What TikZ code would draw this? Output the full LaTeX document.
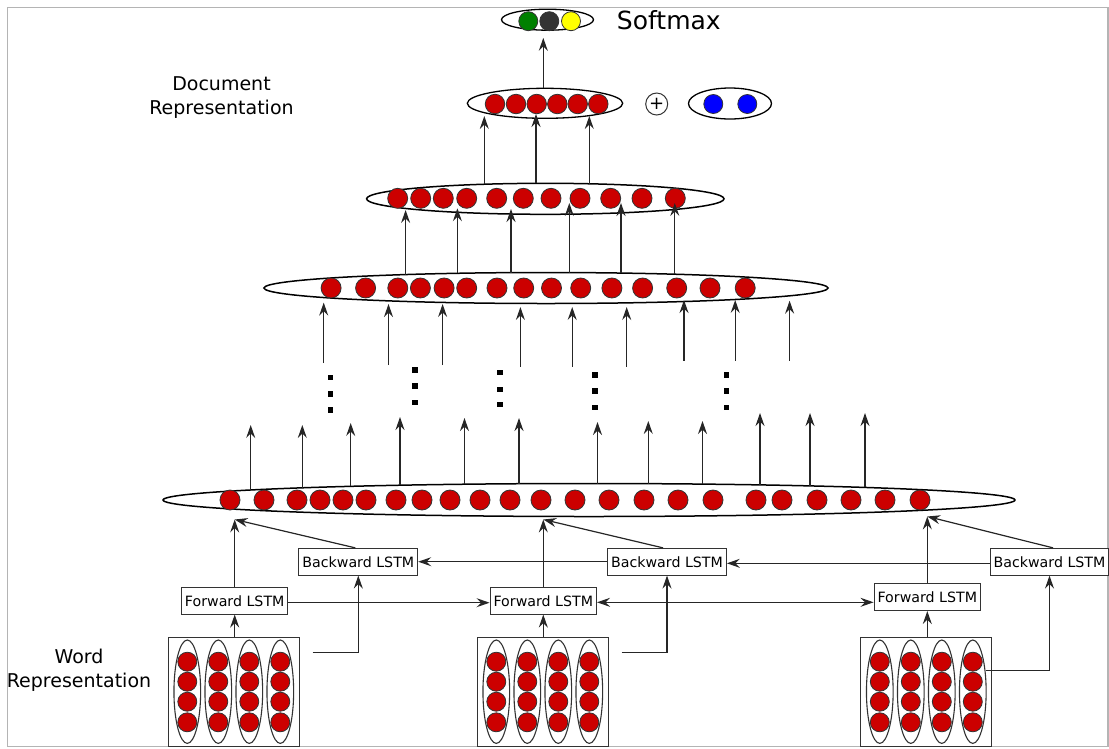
\documentclass[tikz,border=0pt]{standalone}
\usepackage{fontspec}
\setmainfont{DejaVu Sans}
\usetikzlibrary{shapes.geometric,arrows.meta}
\definecolor{cellred}{HTML}{CC0000}
\definecolor{cellgreen}{HTML}{008000}
\definecolor{celldark}{HTML}{333333}
\definecolor{cellyellow}{HTML}{FFFF00}
\definecolor{cellblue}{HTML}{0000FF}
\definecolor{framegray}{HTML}{B4B4B4}
\begin{document}
\begin{tikzpicture}[x=1pt,y=-1pt,
  layer/.style={ellipse, draw=black, line width=1.5pt, fill=white, inner sep=0pt},
  cell/.style={circle, draw=black!80, line width=0.8pt, fill=cellred, minimum size=20pt, inner sep=0pt},
  col/.style={ellipse, draw=black!80, line width=1.1pt, minimum width=26.7pt, minimum height=103.4pt, inner sep=0pt},
  wordbox/.style={draw=black!80, line width=1pt, fill=white, minimum width=131pt, minimum height=108.7pt, inner sep=0pt},
  lstm/.style={draw=black!80, line width=1pt, fill=white, font=\fontsize{14.2}{17}\selectfont, minimum height=26.7pt, inner xsep=3.5pt, inner ysep=0pt},
  label/.style={font=\fontsize{19}{24}\selectfont, align=center, inner sep=0pt},
  tip/.tip={Stealth[length=13pt,width=9pt,inset=4.5pt]},
  arr/.style={draw=black!85, line width=1.2pt, -tip},
  arrboth/.style={draw=black!85, line width=1.2pt, tip-tip},
  dot/.style={fill=black}
]
\useasboundingbox (0,0) rectangle (1109,748);
\draw[framegray, line width=1.3pt] (7.5,7.5) rectangle (1108,746.5);

% ---------- word representations ----------
\foreach \b/\cx in {1/233.8, 2/542.8, 3/926.3} {
  \node[wordbox] (w\b) at (\cx,691.7) {};
  \foreach \k/\dx in {1/-46.5, 2/-15.5, 3/15.5, 4/46.5} {
    \node[col] (w\b c\k) at (\cx+\dx,691.7) {};
    \foreach \j/\cy in {1/661.7, 2/681.7, 3/701.7, 4/722.3}
      \node[cell, minimum size=19pt] (w\b c\k r\j) at (\cx+\dx,\cy) {};
  }
}
\node[label] (wordlbl) at (79,670) {Word\\Representation};

% ---------- LSTM cells ----------
\node[lstm] (f1) at (234.7,600.7) {Forward LSTM};
\node[lstm] (f2) at (543.3,600.7) {Forward LSTM};
\node[lstm] (f3) at (927.3,597.2) {Forward LSTM};
\node[lstm] (b1) at (358.3,561.7) {Backward LSTM};
\node[lstm] (b2) at (667,561.7) {Backward LSTM};
\node[lstm] (b3) at (1049.5,561.7) {Backward LSTM};

% ---------- sentence-level layers ----------
\node[layer, minimum width=852pt, minimum height=33pt] (e4) at (589,500) {};
\foreach \x [count=\i] in {230,264,297,320,343,366,396,422,450,480,510,541,575,609,644,678,713,756,782,817,851,885,920}
  \node[cell] (e4n\i) at (\x,500) {};

\node[layer, minimum width=564pt, minimum height=31pt] (e3) at (546,288) {};
\foreach \x [count=\i] in {331.1,365.6,397.8,420.4,444.1,466.7,497,523.7,551.5,580.7,611.9,642.6,676.7,710,745.2}
  \node[cell] (e3n\i) at (\x,288) {};

\node[layer, minimum width=357.4pt, minimum height=31pt] (e2) at (545.3,198.8) {};
\foreach \x [count=\i] in {397.7,420.7,443.3,466.7,496.7,523.3,551,580,610.7,642,675.3}
  \node[cell] (e2n\i) at (\x,198.3) {};

% ---------- document layer, context and output ----------
\node[layer, line width=1.3pt, minimum width=155.4pt, minimum height=30pt] (doc) at (545,103.3) {};
\foreach \x [count=\i] in {495,516,536.7,557.3,577.7,598.3}
  \node[cell, minimum size=19.5pt] (docn\i) at (\x,104) {};

\node[circle, draw=black!80, line width=1pt, minimum size=22pt, inner sep=0pt, font=\fontsize{18}{18}\selectfont] (plus) at (656.7,104) {+};

\node[layer, line width=1.3pt, minimum width=83pt, minimum height=31pt] (ctx) at (730,103.5) {};
\node[cell, fill=cellblue, minimum size=19pt] (ctxn1) at (713.3,104) {};
\node[cell, fill=cellblue, minimum size=19pt] (ctxn2) at (747.3,104) {};

\node[layer, line width=1.3pt, minimum width=92pt, minimum height=21pt] (soft) at (547.5,19.7) {};
\node[cell, fill=cellgreen, minimum size=19pt] (sm1) at (528.3,21.2) {};
\node[cell, fill=celldark, minimum size=19pt] (sm2) at (549.3,21.2) {};
\node[cell, fill=cellyellow, minimum size=19pt] (sm3) at (571,21.2) {};
\node[font=\fontsize{25}{30}\selectfont, anchor=base west, inner sep=0pt] (smlbl) at (616.7,29.3) {Softmax};

\node[label] (doclbl) at (221.5,97.2) {Document\\Representation};

% ---------- vertical ellipsis between levels ----------
\foreach \x/\y in {330.7/377.3, 330.7/394, 330.7/410,
                   415/370, 415/386, 415/402.7,
                   500/372.3, 500/389.3, 500/404.3,
                   595/375, 595/391, 595/407.7,
                   726.7/375, 726.7/391, 726.7/407.7}
  \fill[dot] (\x-2.7,\y-2.7) rectangle ++(5.4,5.4);

% ---------- connectors: word level ----------
\draw[arr] (f1.south |- w1.north) -- (f1.south);
\draw[arr] (f2.south |- w2.north) -- (f2.south);
\draw[arr] (f3.south |- w3.north) -- (f3.south);

\coordinate (o1) at (312.7,652.3);
\coordinate (o2) at (621.7,652.3);
\coordinate (o3) at (986,670.7);
\draw[arr] (o1) -| (b1.south);
\draw[arr] (o2) -| (b2.south);
\draw[arr] (o3) -| (b3.south);

\draw[arr] ([yshift=-2pt]f1.east) -- ([yshift=-2pt]f1.east -| f2.west);
\draw[arrboth] ([yshift=-1.6pt]f2.east) -- ([yshift=-1.6pt]f2.east -| f3.west);
\draw[arr] ([yshift=-1.6pt]b3.west) -- ([yshift=-1.6pt]b3.west -| b2.east);
\draw[arr] (b2.west) -- (b2.west -| b1.east);

\coordinate (j1) at (234.7,519.5);
\coordinate (j2) at (543.3,519.5);
\coordinate (j3) at (927.3,516.5);
\draw[arr] (f1.north) -- (j1);
\draw[arr] (f2.north) -- (j2);
\draw[arr] (f3.north) -- (j3);
\draw[arr] ([xshift=-3pt]b1.north) -- (j1);
\draw[arr] ([xshift=-4pt]b2.north) -- (j2);
\draw[arr] ([xshift=3.5pt]b3.north) -- (j3);

% ---------- connectors: upper levels ----------
\foreach \x/\a/\b in {250.7/490/425, 302.3/487.8/425, 350.7/486.3/423, 400/485.2/417,
                      464.5/484.2/418, 519/483.7/418, 597.5/483.5/422, 648.3/483.7/421,
                      702.5/484.1/421, 760/484.9/413, 810/485.9/413, 865/487.4/413}
  \draw[arr] (\x,\a) -- (\x,\b);

\foreach \x/\a/\b in {323.7/363/302.6, 388.5/365/304, 442.6/365/304, 520.4/366.7/307,
                      572.2/366.7/307, 626.7/366.7/307, 684/360.7/300, 735.2/360.7/300,
                      789.6/360.7/300.7}
  \draw[arr] (\x,\a) -- (\x,\b);

\foreach \x/\a/\b in {405.6/274.6/210, 457.4/273.3/208.3, 511/272.6/209,
                      569.3/272.6/203, 621/273.1/203, 674.8/274.2/203}
  \draw[arr] (\x,\a) -- (\x,\b);

\foreach \x/\a/\b in {484.3/184.2/116, 536/183.3/114, 589.3/183.8/116}
  \draw[arr] (\x,\a) -- (\x,\b);

\draw[arr] ([xshift=-1.7pt]doc.north) -- ([xshift=-4.2pt,yshift=-7pt]soft.south);
\end{tikzpicture}
\end{document}
